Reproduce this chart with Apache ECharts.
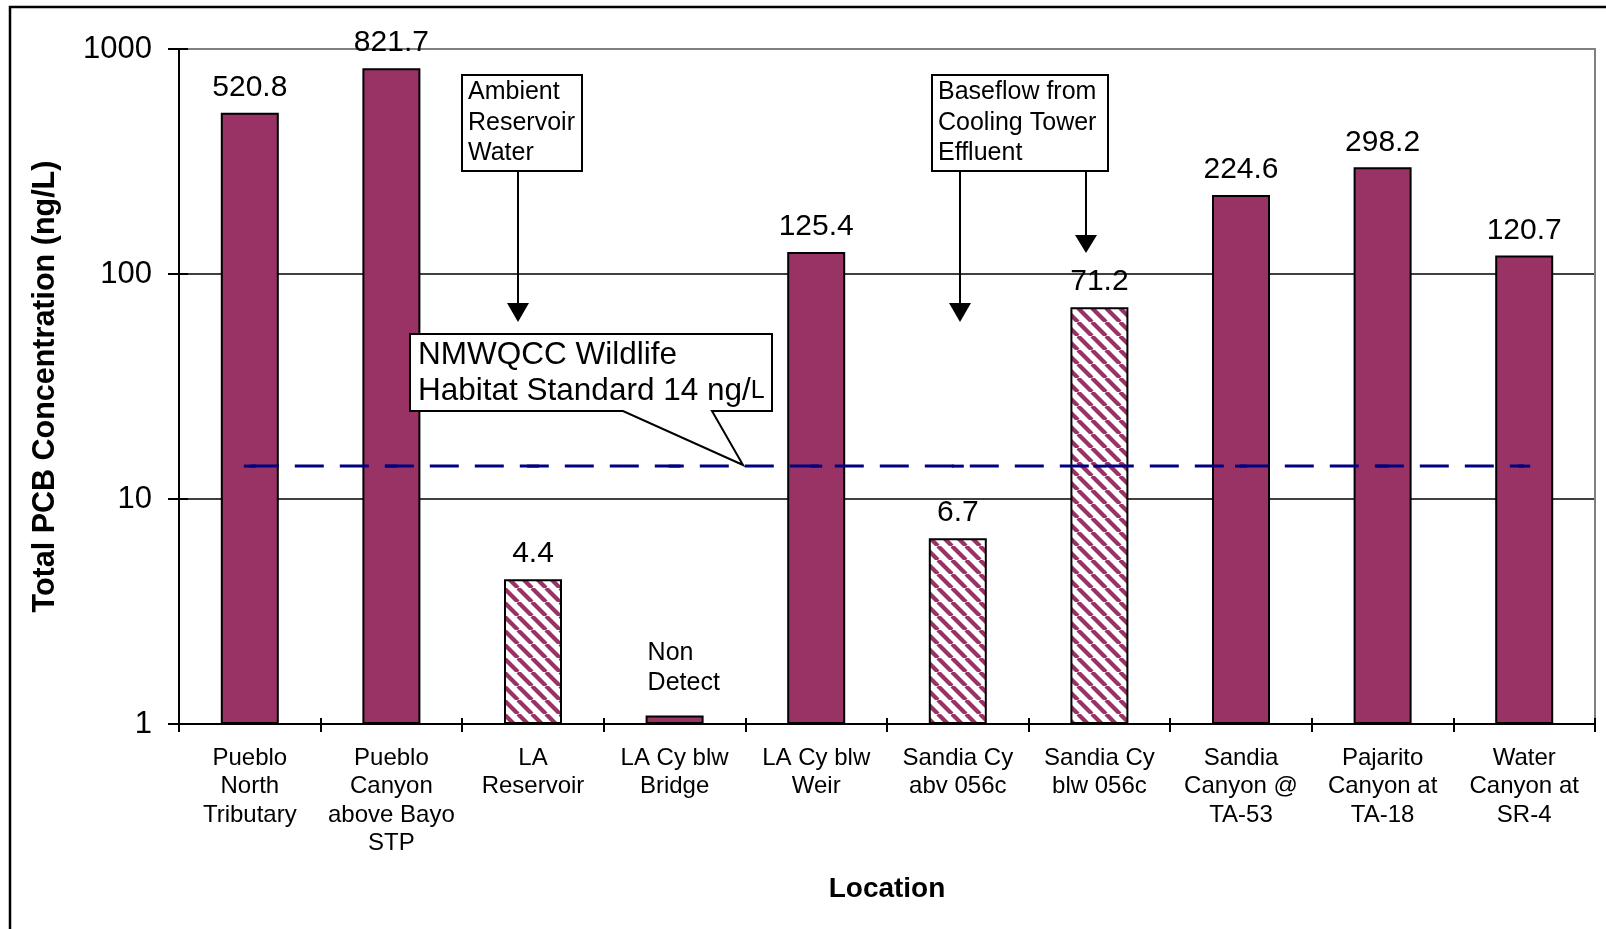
<!DOCTYPE html>
<html>
<head>
<meta charset="utf-8">
<script src="https://cdn.jsdelivr.net/npm/echarts@6/dist/echarts.min.js"></script>
<style>
html,body{margin:0;padding:0;background:#fff;}
#chart{width:1606px;height:929px;}
</style>
</head>
<body>
<div id="chart"></div>
<script>
// ---- data ----
var categories = ['Pueblo\nNorth\nTributary', 'Pueblo\nCanyon\nabove Bayo\nSTP', 'LA\nReservoir', 'LA Cy blw\nBridge', 'LA Cy blw\nWeir', 'Sandia Cy\nabv 056c', 'Sandia Cy\nblw 056c', 'Sandia\nCanyon @\nTA-53', 'Pajarito\nCanyon at\nTA-18', 'Water\nCanyon at\nSR-4'];
var pcbValues = [520.8, 821.7, 4.4, 1.09, 125.4, 6.7, 71.2, 224.6, 298.2, 120.7];
var valueLabels = ['520.8', '821.7', '4.4', 'Non\nDetect', '125.4', '6.7', '71.2', '224.6', '298.2', '120.7'];
var hatched = [false, false, true, false, false, true, true, false, false, false];
var standardValues = [14, 14, 14, 14, 14, 14, 14, 14, 14, 14];
var yTicks = [1, 10, 100, 1000];

var FONT = '"Liberation Sans", Arial, sans-serif';
var MAROON = '#993366';

// hatch pattern
var pc = document.createElement('canvas');
pc.width = 14; pc.height = 14;
var g = pc.getContext('2d');
g.fillStyle = '#ffffff'; g.fillRect(0, 0, 14, 14);
g.strokeStyle = MAROON; g.lineWidth = 4.2;
[-14, 0, 14].forEach(function (k) { g.beginPath(); g.moveTo(k, 0); g.lineTo(k + 14, 14); g.stroke(); });

var barData = pcbValues.map(function (v, i) {
  var item = {
    value: v,
    itemStyle: { color: hatched[i] ? { image: pc, repeat: 'repeat' } : MAROON }
  };
  if (valueLabels[i].indexOf('\n') >= 0) {
    item.label = { align: 'left', offset: [-27, 0], fontSize: 25, lineHeight: 30, distance: 17 };
  }
  return item;
});

var chart = echarts.init(document.getElementById('chart'), null, { renderer: 'canvas' });

var option = {
  backgroundColor: '#ffffff',
  animation: false,
  textStyle: { fontFamily: FONT },
  grid: { left: 179, right: 11, top: 49, bottom: 205, containLabel: false },
  xAxis: [
    {
      type: 'category', data: categories, position: 'bottom',
      axisLine: { show: true, lineStyle: { color: '#000', width: 2 } },
      axisTick: { show: true, length: 8, lineStyle: { color: '#000', width: 2 } },
      axisLabel: { interval: 0, fontSize: 24, lineHeight: 28.5, margin: 20, color: '#000', fontFamily: FONT },
      name: 'Location', nameLocation: 'middle', nameGap: 151,
      nameTextStyle: { fontSize: 28, fontWeight: 'bold', color: '#000', fontFamily: FONT },
      splitLine: { show: false }
    },
    {
      type: 'category', data: categories, position: 'top',
      axisLine: { show: true, lineStyle: { color: '#808080', width: 2 } },
      axisTick: { show: false }, axisLabel: { show: false }, splitLine: { show: false }
    },
    {
      type: 'category', data: categories, position: 'bottom',
      axisLine: { show: false },
      axisTick: { show: true, inside: true, length: 6, lineStyle: { color: '#000', width: 2 } },
      axisLabel: { show: false }, splitLine: { show: false }
    }
  ],
  yAxis: [
    {
      type: 'log', logBase: 10, min: yTicks[0], max: yTicks[yTicks.length - 1], position: 'left',
      axisLine: { show: true, lineStyle: { color: '#000', width: 2 } },
      axisTick: { show: true, length: 11, lineStyle: { color: '#000', width: 2 } },
      axisLabel: { fontSize: 31, margin: 27, color: '#000', fontFamily: FONT,
        formatter: function (v) { return String(Math.round(v)); } },
      splitLine: { show: true, lineStyle: { color: '#000', width: 1.5 } },
      name: 'Total PCB Concentration (ng/L)', nameLocation: 'middle', nameGap: 118,
      nameTextStyle: { fontSize: 30.5, fontWeight: 'bold', color: '#000', fontFamily: FONT }
    },
    {
      type: 'log', logBase: 10, min: yTicks[0], max: yTicks[yTicks.length - 1], position: 'right',
      axisLine: { show: true, lineStyle: { color: '#808080', width: 2 } },
      axisTick: { show: false }, axisLabel: { show: false }, splitLine: { show: false }
    },
    {
      type: 'log', logBase: 10, min: yTicks[0], max: yTicks[yTicks.length - 1], position: 'left',
      axisLine: { show: false },
      axisTick: { show: true, inside: true, length: 9, lineStyle: { color: '#000', width: 2 } },
      axisLabel: { show: false }, splitLine: { show: false }
    }
  ],
  series: [
    {
      type: 'bar', xAxisIndex: 0, yAxisIndex: 0,
      data: barData,
      barWidth: 58,
      itemStyle: { borderColor: '#000', borderWidth: 2 },
      label: {
        show: true, position: 'top', distance: 10, fontSize: 30, color: '#000', fontFamily: FONT,
        formatter: function (p) { return valueLabels[p.dataIndex]; }
      },
      z: 2
    },
    {
      type: 'line', xAxisIndex: 0, yAxisIndex: 0,
      data: standardValues,
      symbol: 'rect', symbolSize: [12, 3],
      itemStyle: { color: '#000080' },
      lineStyle: { color: '#000080', width: 3, type: [29, 16] },
      z: 5
    }
  ],
  graphic: [
    { type: 'rect', z: 0, silent: true,
      shape: { x: 10, y: 7, width: 1700, height: 1000 },
      style: { fill: null, stroke: '#000', lineWidth: 2.5 } },
    // Ambient Reservoir Water box
    { type: 'rect', z: 100, shape: { x: 462, y: 75, width: 120, height: 96 },
      style: { fill: '#fff', stroke: '#000', lineWidth: 2 } },
    { type: 'text', z: 101, x: 468, y: 77,
      style: { text: 'Ambient\nReservoir\nWater', font: '25px ' + FONT, fill: '#000', lineHeight: 30.5, verticalAlign: 'top' } },
    { type: 'line', z: 100, shape: { x1: 518, y1: 171, x2: 518, y2: 305 }, style: { stroke: '#000', lineWidth: 2 } },
    { type: 'polygon', z: 100, shape: { points: [[507, 303], [529, 303], [518, 322]] }, style: { fill: '#000' } },
    // Baseflow box
    { type: 'rect', z: 100, shape: { x: 932, y: 75, width: 176, height: 96 },
      style: { fill: '#fff', stroke: '#000', lineWidth: 2 } },
    { type: 'text', z: 101, x: 938, y: 77,
      style: { text: 'Baseflow from\nCooling Tower\nEffluent', font: '25px ' + FONT, fill: '#000', lineHeight: 30.5, verticalAlign: 'top' } },
    { type: 'line', z: 100, shape: { x1: 960, y1: 171, x2: 960, y2: 305 }, style: { stroke: '#000', lineWidth: 2 } },
    { type: 'polygon', z: 100, shape: { points: [[949, 303], [971, 303], [960, 322]] }, style: { fill: '#000' } },
    { type: 'line', z: 100, shape: { x1: 1086, y1: 171, x2: 1086, y2: 237 }, style: { stroke: '#000', lineWidth: 2 } },
    { type: 'polygon', z: 100, shape: { points: [[1075, 235], [1097, 235], [1086, 253]] }, style: { fill: '#000' } },
    // NMWQCC callout
    { type: 'polygon', z: 100,
      shape: { points: [[410, 334], [772, 334], [772, 411], [712, 411], [743, 465], [623, 411], [410, 411]] },
      style: { fill: '#fff', stroke: '#000', lineWidth: 2 } },
    { type: 'text', z: 101, x: 418, y: 338,
      style: { text: 'NMWQCC Wildlife\nHabitat Standard 14 ng/{s|L}', font: '31.5px ' + FONT, fill: '#000', lineHeight: 35.5, verticalAlign: 'top',
        rich: { s: { fontSize: 25, fontFamily: FONT, fill: '#000', lineHeight: 35.5 } } } }
  ]
};
chart.setOption(option);
</script>
</body>
</html>
